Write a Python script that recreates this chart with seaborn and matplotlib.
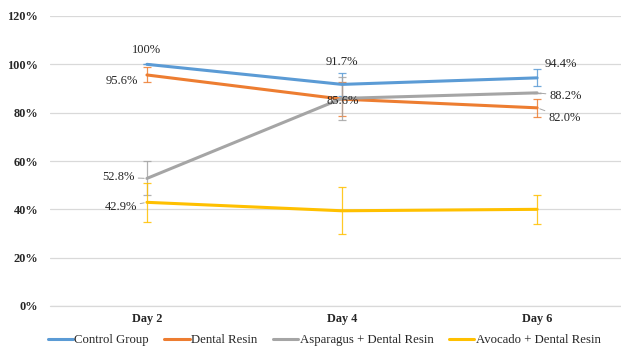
import matplotlib
matplotlib.use("Agg")
import matplotlib.pyplot as plt
import seaborn as sns
import pandas as pd
import numpy as np

days = ["Day 2", "Day 4", "Day 6"]
series_names = ["Control Group", "Dental Resin",
                "Asparagus + Dental Resin", "Avocado + Dental Resin"]
control = [100.0, 91.7, 94.4]
resin = [95.6, 85.6, 82.0]
asparagus = [52.8, 85.9, 88.2]
avocado = [42.9, 39.4, 40.0]
control_err = [0.0, 4.6, 3.5]
resin_err = [3.1, 6.9, 3.8]
asparagus_err = [7.0, 9.0, 0.0]
avocado_err = [8.2, 9.7, 6.0]
colors = ["#5B9BD5", "#ED7D31", "#A5A5A5", "#FFC000"]

values = [control, resin, asparagus, avocado]
errors = [control_err, resin_err, asparagus_err, avocado_err]

df = pd.DataFrame({
    "day": days * 4,
    "value": control + resin + asparagus + avocado,
    "group": [g for g in series_names for _ in days],
})

sns.set_theme(style="white")
plt.rcParams["font.family"] = ["Liberation Serif", "DejaVu Serif"]

fig = plt.figure(figsize=(6.21, 3.47), dpi=100)
ax = fig.add_axes([50 / 621, 1 - 306 / 347, 1 - 50 / 621, (306 - 16) / 347])

sns.lineplot(data=df, x="day", y="value", hue="group", hue_order=series_names,
             palette=colors, linewidth=2.2, ax=ax, sort=False, zorder=3)

xpos = np.arange(len(days))
for vals, errs, col in zip(values, errors, colors):
    ax.errorbar(xpos, vals, yerr=errs, fmt="none", ecolor=col, elinewidth=0.9,
                capsize=3, capthick=0.9, zorder=2, alpha=0.85)

ax.set_xlim(-0.497, 2.43)
ax.set_ylim(0, 120)
ax.set_yticks(np.arange(0, 121, 20))
ax.set_yticklabels([f"{v}%" for v in range(0, 121, 20)],
                   fontsize=8.8, fontweight="bold")
ax.set_xticks(xpos)
ax.set_xticklabels(days, fontsize=8.8, fontweight="bold")
ax.tick_params(axis="y", length=0, pad=8.5)
ax.tick_params(axis="x", length=0, pad=5)
ax.set_xlabel("")
ax.set_ylabel("")
ax.grid(axis="y", color="#D9D9D9", linewidth=0.9)
ax.grid(axis="x", visible=False)
ax.axhline(0, color="#D9D9D9", linewidth=0.9, clip_on=False, zorder=1)
for s in ax.spines.values():
    s.set_visible(False)

lab_kw = dict(fontsize=9, color="#262626", textcoords="offset pixels")
lead = dict(arrowstyle="-", color="#A6A6A6", lw=0.7, shrinkA=0, shrinkB=2)

# data labels, each formatted from the value it sits on
def pct(v):
    return f"{v:g}%" if v == 100 else f"{v:.1f}%"

ax.annotate(pct(control[0]), (0, control[0]), xytext=(0, 14), ha="center", va="center", **lab_kw)
ax.annotate(pct(resin[0]), (0, resin[0]), xytext=(-9, -6), ha="right", va="center", **lab_kw)
ax.annotate(pct(asparagus[0]), (0, asparagus[0]), xytext=(-12, 1), ha="right", va="center",
            arrowprops=lead, **lab_kw)
ax.annotate(pct(avocado[0]), (0, avocado[0]), xytext=(-10, -5), ha="right", va="center",
            arrowprops=lead, **lab_kw)
ax.annotate(pct(control[1]), (1, control[1]), xytext=(0, 22), ha="center", va="center", **lab_kw)
ax.annotate(pct(resin[1]), (1, resin[1]), xytext=(1, -2), ha="center", va="center", **lab_kw)
ax.annotate(pct(control[2]), (2, control[2]), xytext=(8, 14), ha="left", va="center", **lab_kw)
ax.annotate(pct(asparagus[2]), (2, asparagus[2]), xytext=(12, -3), ha="left", va="center",
            arrowprops=lead, **lab_kw)
ax.annotate(pct(resin[2]), (2, resin[2]), xytext=(11, -10), ha="left", va="center",
            arrowprops=lead, **lab_kw)

leg = ax.legend(loc="center", bbox_to_anchor=(0.5 - 0.02, -0.118), ncol=4, frameon=False,
                fontsize=9.2, handlelength=2.0, handletextpad=0.1, columnspacing=1.2,
                borderaxespad=0)
for line in leg.get_lines():
    line.set_linewidth(2.2)

fig.savefig("out.png", dpi=100)
